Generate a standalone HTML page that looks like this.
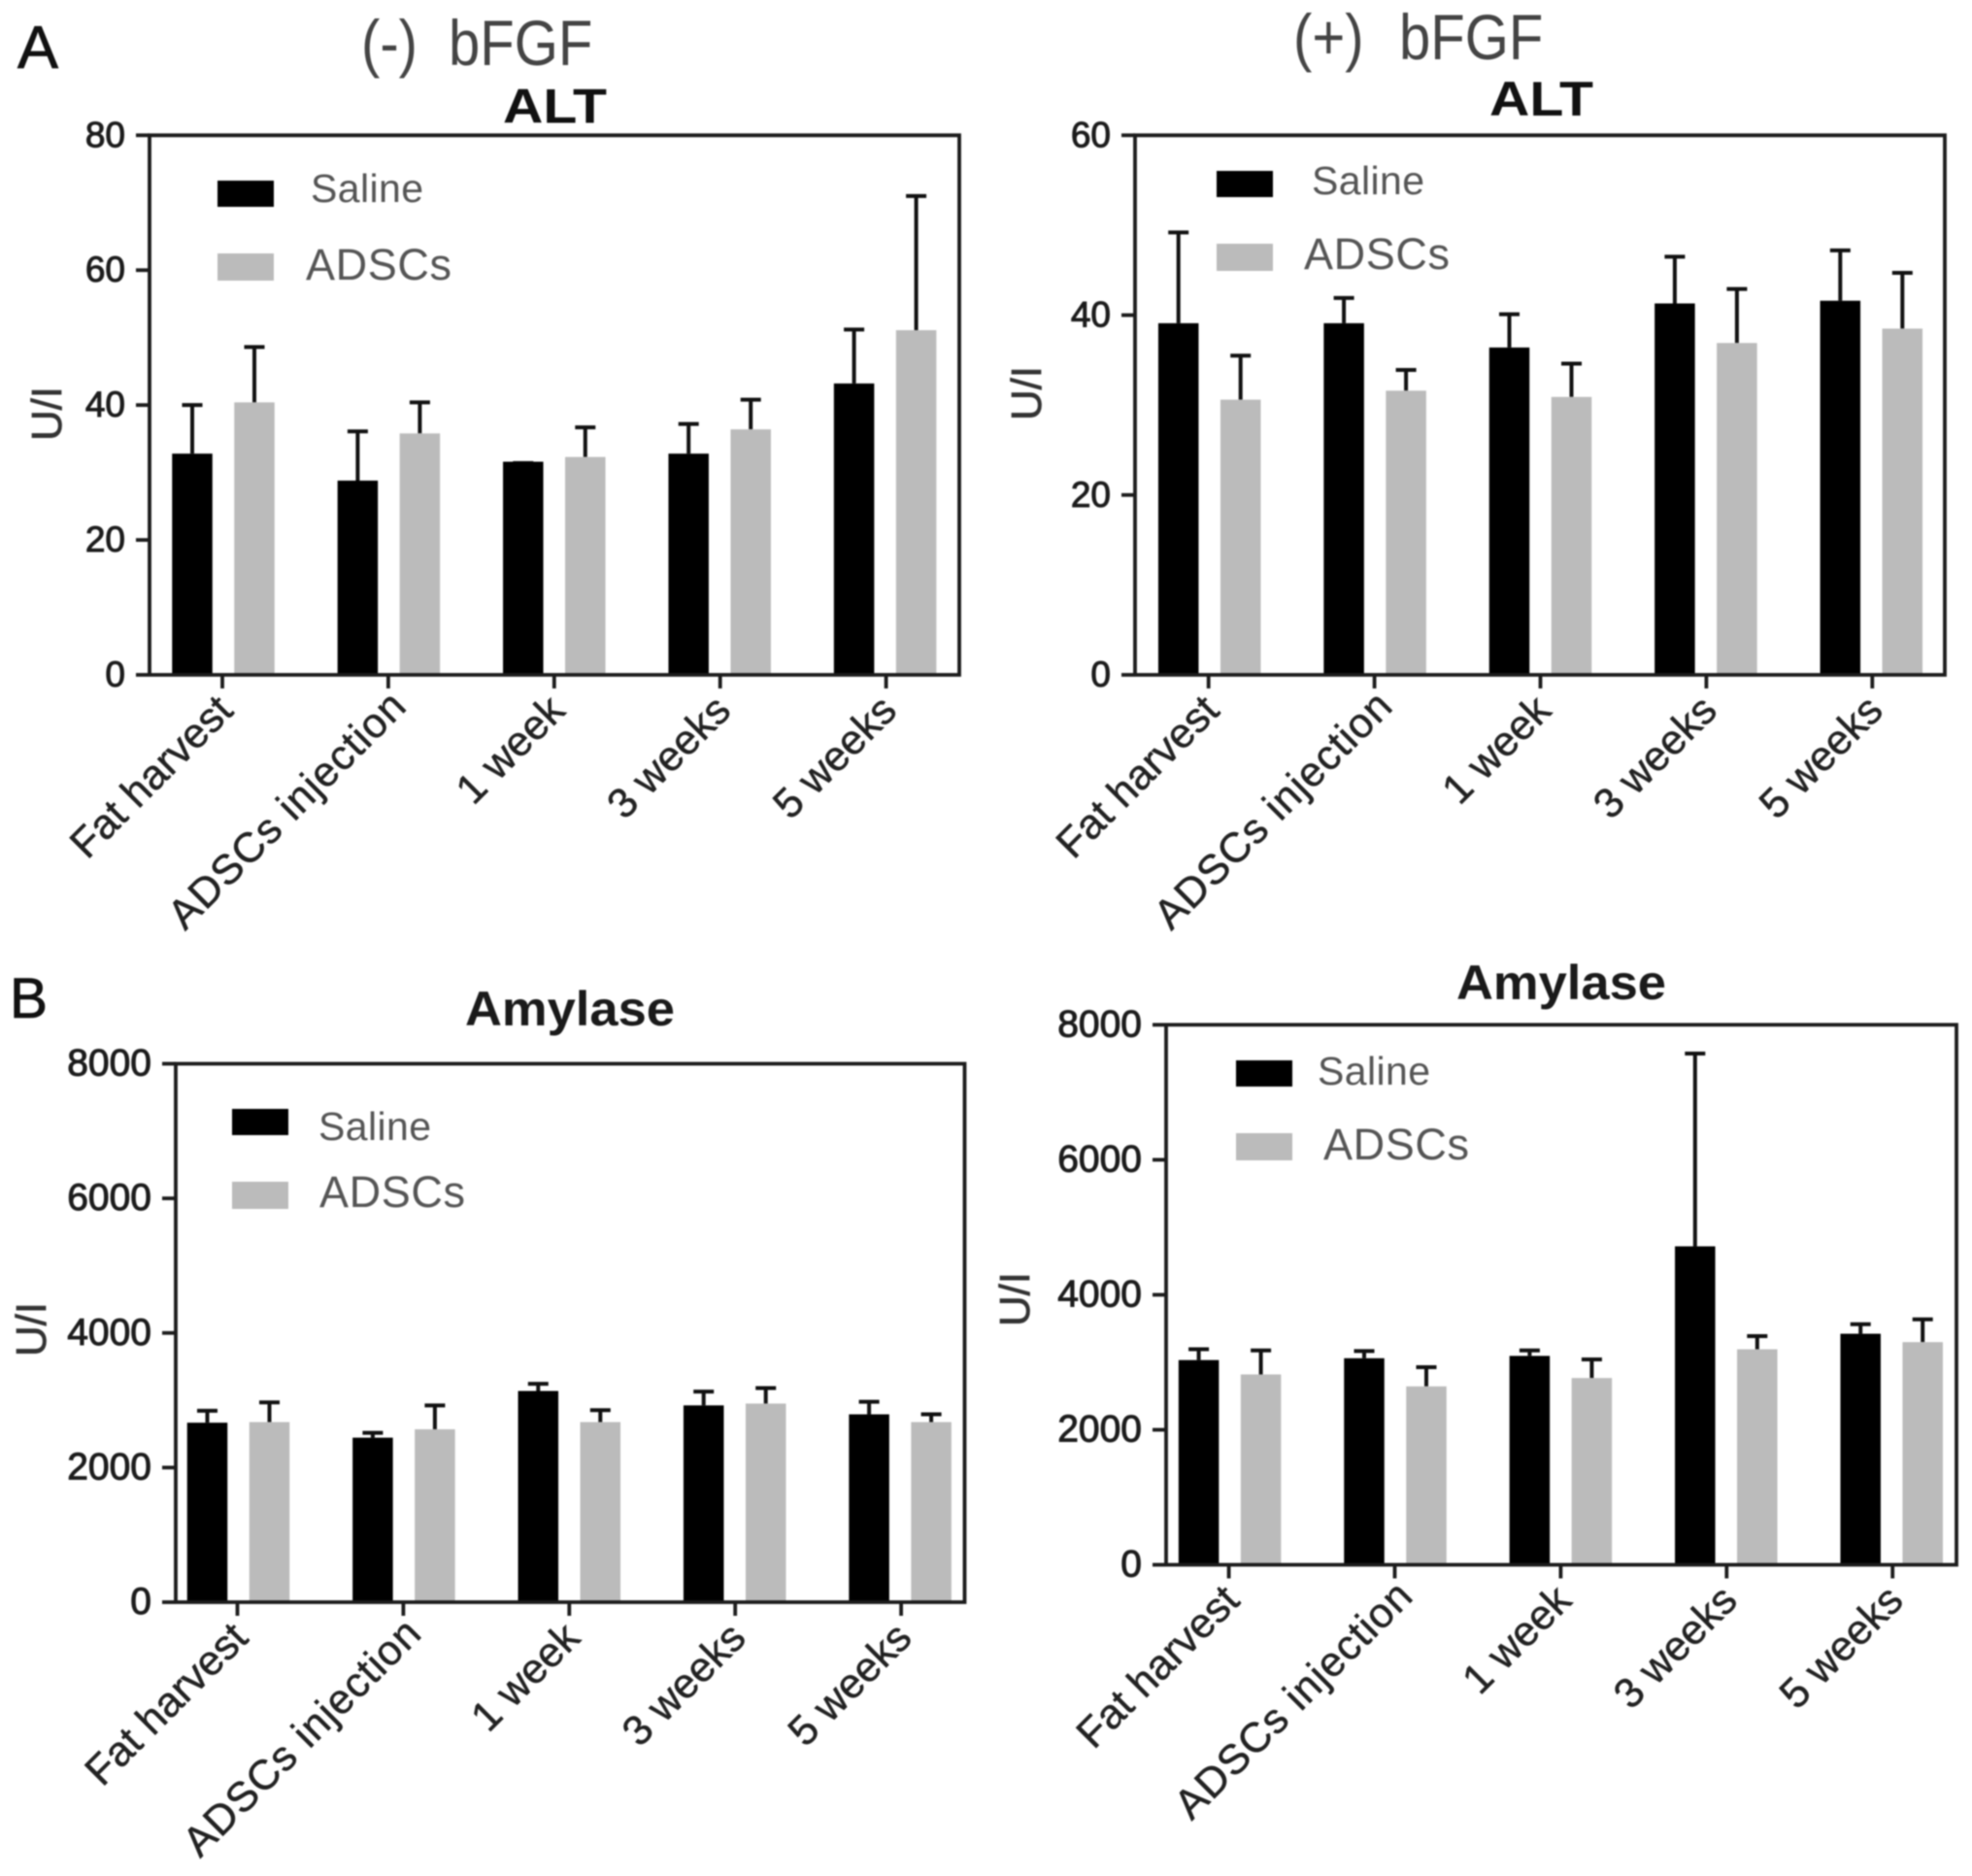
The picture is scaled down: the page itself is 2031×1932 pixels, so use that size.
<!DOCTYPE html>
<html lang="en">
<head>
<meta charset="utf-8">
<title>ALT and Amylase with and without bFGF</title>
<style>
  html, body { margin: 0; padding: 0; background: #fff; }
  svg { display: block; filter: blur(0.7px); }
  text { font-family: "Liberation Sans", Arial, sans-serif; }
</style>
</head>
<body>
<svg id="figure" xmlns="http://www.w3.org/2000/svg" width="2031" height="1932" viewBox="0 0 2031 1932">
  <rect x="0" y="0" width="2031" height="1932" fill="#fff"/>
  <text x="18" y="70" font-size="62" fill="#111" stroke="#111" stroke-width="0.8" textLength="42" lengthAdjust="spacingAndGlyphs">A</text>
  <text x="10" y="1048" font-size="58" fill="#111" stroke="#111" stroke-width="0.8" textLength="39" lengthAdjust="spacingAndGlyphs">B</text>
  <text transform="translate(372 67) scale(0.88 1)" font-size="66" fill="#444" word-spacing="18">(-) bFGF</text>
  <text transform="translate(1332 61) scale(0.88 1)" font-size="66" fill="#444" word-spacing="23">(+) bFGF</text>

  <text x="518" y="126.5" font-size="50" font-weight="bold" fill="#111" textLength="107" lengthAdjust="spacingAndGlyphs">ALT</text>
  <text x="1534" y="119" font-size="50" font-weight="bold" fill="#111" textLength="107" lengthAdjust="spacingAndGlyphs">ALT</text>
  <text x="479" y="1056" font-size="50" font-weight="bold" fill="#1a1a1a" textLength="216" lengthAdjust="spacingAndGlyphs">Amylase</text>
  <text x="1500" y="1029" font-size="50" font-weight="bold" fill="#1a1a1a" textLength="216" lengthAdjust="spacingAndGlyphs">Amylase</text>

  <text transform="translate(63 454) rotate(-90)" font-size="44" fill="#333" stroke="#333" stroke-width="0.7" textLength="56">U/I</text>
  <text transform="translate(1072 433) rotate(-90)" font-size="44" fill="#333" stroke="#333" stroke-width="0.7" textLength="56">U/I</text>
  <text transform="translate(47 1397) rotate(-90)" font-size="44" fill="#333" stroke="#333" stroke-width="0.7" textLength="56">U/I</text>
  <text transform="translate(1060 1366) rotate(-90)" font-size="44" fill="#333" stroke="#333" stroke-width="0.7" textLength="56">U/I</text>

  <g>
    <rect x="224" y="186" width="58" height="27" fill="#000"/>
    <text x="320" y="208" font-size="41" fill="#555" textLength="116">Saline</text>
    <rect x="224" y="261" width="58" height="28" fill="#bbb"/>
    <text x="315" y="288" font-size="45" fill="#555" textLength="150">ADSCs</text>
  </g>
  <g>
    <rect x="1253" y="176" width="58" height="27" fill="#000"/>
    <text x="1351" y="200" font-size="41" fill="#555" textLength="116">Saline</text>
    <rect x="1253" y="251" width="58" height="28" fill="#bbb"/>
    <text x="1343" y="277" font-size="45" fill="#555" textLength="150">ADSCs</text>
  </g>
  <g>
    <rect x="239" y="1142" width="58" height="27" fill="#000"/>
    <text x="328" y="1174" font-size="41" fill="#555" textLength="116">Saline</text>
    <rect x="239" y="1217" width="58" height="28" fill="#bbb"/>
    <text x="329" y="1243" font-size="45" fill="#555" textLength="150">ADSCs</text>
  </g>
  <g>
    <rect x="1273" y="1092" width="58" height="27" fill="#000"/>
    <text x="1357" y="1117" font-size="41" fill="#555" textLength="116">Saline</text>
    <rect x="1273" y="1167" width="58" height="28" fill="#bbb"/>
    <text x="1363" y="1194" font-size="45" fill="#555" textLength="150">ADSCs</text>
  </g>
  <g id="charts"></g>
</svg>
<script>
// Shared categories and axis tick labels
const categories = ["Fat harvest", "ADSCs injection", "1 week", "3 weeks", "5 weeks"];
const altMinusTicks = [0, 20, 40, 60, 80];
const altPlusTicks = [0, 20, 40, 60];
const amylaseTicks = [0, 2000, 4000, 6000, 8000];

// ALT, (-) bFGF
const altMinusSalineMean = [32.8, 28.8, 31.6, 32.8, 43.2];
const altMinusSalineTop = [40, 36.1, 31.4, 37.2, 51.2];
const altMinusAdscsMean = [40.4, 35.8, 32.3, 36.4, 51.1];
const altMinusAdscsTop = [48.6, 40.4, 36.7, 40.8, 71];

// ALT, (+) bFGF
const altPlusSalineMean = [39.1, 39.1, 36.4, 41.3, 41.6];
const altPlusSalineTop = [49.2, 41.9, 40.1, 46.5, 47.2];
const altPlusAdscsMean = [30.6, 31.6, 30.9, 36.9, 38.5];
const altPlusAdscsTop = [35.5, 33.9, 34.6, 42.9, 44.7];

// Amylase, (-) bFGF
const amyMinusSalineMean = [2667, 2444, 3138, 2924, 2791];
const amyMinusSalineTop = [2844, 2516, 3244, 3129, 2978];
const amyMinusAdscsMean = [2676, 2569, 2676, 2951, 2676];
const amyMinusAdscsTop = [2969, 2924, 2853, 3182, 2791];

// Amylase, (+) bFGF
const amyPlusSalineMean = [3033, 3060, 3095, 4718, 3423];
const amyPlusSalineTop = [3193, 3166, 3175, 7574, 3565];
const amyPlusAdscsMean = [2820, 2643, 2767, 3193, 3299];
const amyPlusAdscsTop = [3175, 2927, 3042, 3388, 3636];

const panels = [
  { id: "alt-minus", left: 154, right: 988, top: 139.3, bottom: 695, groupStart: 76, tickFont: 37, ticks: altMinusTicks,
    salineMean: altMinusSalineMean, salineTop: altMinusSalineTop, adscsMean: altMinusAdscsMean, adscsTop: altMinusAdscsTop },
  { id: "alt-plus", left: 1169, right: 2003, top: 139.3, bottom: 695, groupStart: 76.7, tickFont: 37, ticks: altPlusTicks,
    salineMean: altPlusSalineMean, salineTop: altPlusSalineTop, adscsMean: altPlusAdscsMean, adscsTop: altPlusAdscsTop },
  { id: "amylase-minus", left: 181, right: 993.5, top: 1095.5, bottom: 1650, groupStart: 64.5, tickFont: 39, ticks: amylaseTicks,
    salineMean: amyMinusSalineMean, salineTop: amyMinusSalineTop, adscsMean: amyMinusAdscsMean, adscsTop: amyMinusAdscsTop },
  { id: "amylase-plus", left: 1201, right: 2015, top: 1055.4, bottom: 1611.5, groupStart: 65.6, tickFont: 39, ticks: amylaseTicks,
    salineMean: amyPlusSalineMean, salineTop: amyPlusSalineTop, adscsMean: amyPlusAdscsMean, adscsTop: amyPlusAdscsTop }
];

const SVG_NS = "http://www.w3.org/2000/svg";
const AXIS = "#1c1c1c";
const GROUP_STEP = 170.4;
const TICK_STEP = 170.9;
const BAR_OFFSET = 32;
const BAR_WIDTH = 41.5;
const CAP_HALF = 10.5;
const TICK_LEN = 14;

function make(parent, tag, attrs) {
  const node = document.createElementNS(SVG_NS, tag);
  for (const key in attrs) node.setAttribute(key, attrs[key]);
  parent.appendChild(node);
  return node;
}

function drawPanel(panel, root) {
  const maxTick = panel.ticks[panel.ticks.length - 1];
  const yScale = v => panel.bottom - (v / maxTick) * (panel.bottom - panel.top);
  const xScale = i => panel.left + panel.groupStart + i * GROUP_STEP;
  const xTick = i => panel.left + panel.groupStart - 1 + i * TICK_STEP;

  const g = make(root, "g", {});
  
  

  function drawSeries(means, tops, offset, fill, label) {
    means.forEach((mean, i) => {
      const cx = xScale(i) + offset;
      const stem = make(g, "line", { x1: cx, x2: cx, y1: yScale(mean), y2: yScale(tops[i]), stroke: "#111", "stroke-width": 4 });
      
      
      const cap = make(g, "line", { x1: cx - CAP_HALF, x2: cx + CAP_HALF, y1: yScale(tops[i]), y2: yScale(tops[i]), stroke: "#111", "stroke-width": 4 });
      
      
      const bar = make(g, "rect", { x: cx - BAR_WIDTH / 2, y: yScale(mean), width: BAR_WIDTH, height: yScale(0) - yScale(mean), fill: fill });
      
      
    });
  }
  drawSeries(panel.salineMean, panel.salineTop, -BAR_OFFSET, "#000", "saline");
  drawSeries(panel.adscsMean, panel.adscsTop, BAR_OFFSET, "#bbb", "adscs");

  const frame = make(g, "path", {
    d: "M" + panel.left + " " + panel.bottom + "V" + panel.top + "H" + panel.right + "V" + panel.bottom + "H" + panel.left,
    fill: "none", stroke: AXIS, "stroke-width": 3.8
  });
  
  

  panel.ticks.forEach(t => {
    const y = yScale(t);
    const tick = make(g, "line", { x1: panel.left - TICK_LEN, x2: panel.left, y1: y, y2: y, stroke: AXIS, "stroke-width": 3.8 });
    
    
    const label = make(g, "text", { x: panel.left - 25, y: y + 12, "text-anchor": "end", "font-size": panel.tickFont, fill: "#1c1c1c", stroke: "#1c1c1c", "stroke-width": 1 });
    label.textContent = t;
    
    
  });

  categories.forEach((name, i) => {
    const x = xTick(i);
    const tick = make(g, "line", { x1: x, x2: x, y1: panel.bottom, y2: panel.bottom + TICK_LEN, stroke: AXIS, "stroke-width": 3.8 });
    
    
    const isLong = name.length > 12;
    const lx = x + 13 + (isLong ? 8 : 0);
    const ly = panel.bottom + 39 - (isLong ? 5 : 0);
    const label = make(g, "text", { transform: "translate(" + lx + " " + ly + ") rotate(-45)", "text-anchor": "end", "font-size": 43, fill: "#222", stroke: "#222", "stroke-width": 0.5 });
    if (isLong) label.setAttribute("letter-spacing", "1");
    label.textContent = name;
    
    
  });
}

const chartsRoot = document.getElementById("charts");
panels.forEach(p => drawPanel(p, chartsRoot));
</script>
</body>
</html>
